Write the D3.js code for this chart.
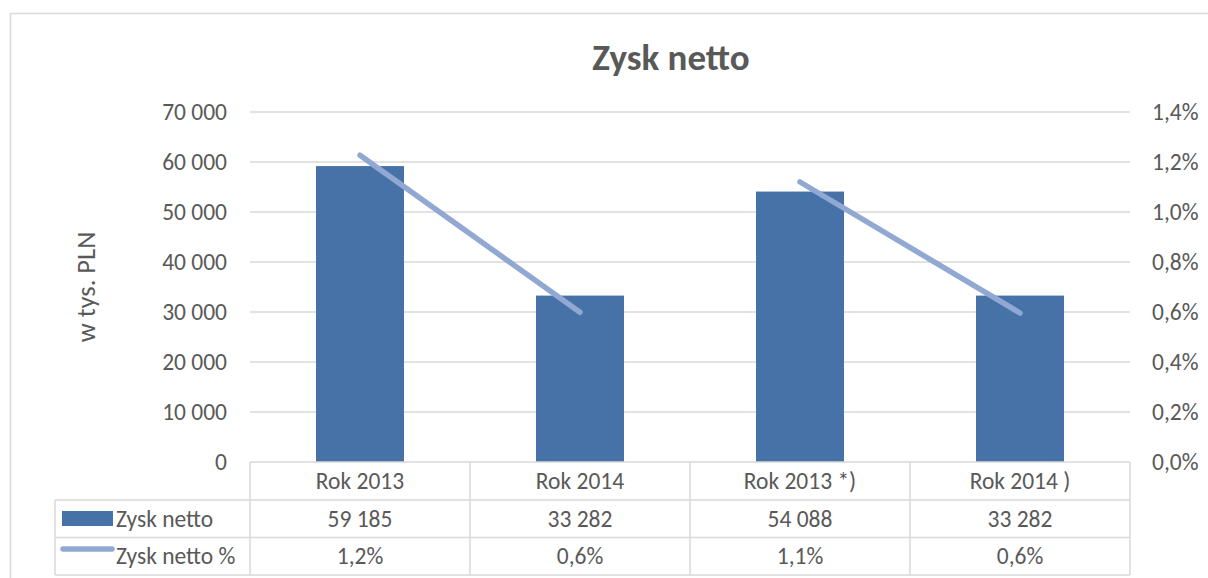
<!DOCTYPE html>
<html>
<head>
<meta charset="utf-8">
<script src="https://cdn.jsdelivr.net/npm/d3@7"></script>
<style>
	body { margin: 0; background: #fff; }
	svg { display: block; font-family: Carlito, Calibri, Lato, sans-serif; }
	text { fill: #595959; }
</style>
</head>
<body>
<div id="chart"></div>
<script>
/* global d3 */

const categories = ['Rok 2013', 'Rok 2014', 'Rok 2013 *)', 'Rok 2014 )'];
const zyskNetto = [59185, 33282, 54088, 33282];
const zyskNettoPct = [0.01227, 0.00599, 0.0112, 0.00596];
const leftTicks = [0, 10000, 20000, 30000, 40000, 50000, 60000, 70000];
const rightTicks = [0, 0.002, 0.004, 0.006, 0.008, 0.010, 0.012, 0.014];
const seriesNames = ['Zysk netto', 'Zysk netto %'];

const width = 1208;
const height = 578;

const barColor = '#4672a8';
const lineColor = '#91a9d2';
const gridColor = '#d9d9d9';
const fontSize = '23.5px';

const pl = d3.formatLocale({
	decimal: ',',
	thousands: '\u00a0',
	grouping: [3],
	currency: ['', ' zł'],
});
const fmtNum = pl.format(',d');
const fmtPct = pl.format('.1%');

const svg = d3.select('#chart').append('svg')
	.attr('width', width)
	.attr('height', height);

// chart frame
svg.append('path')
	.attr('d', `M10.5,${height + 2}V13.5H${width + 2}`)
	.attr('fill', 'none')
	.attr('stroke', gridColor)
	.attr('stroke-width', 1.5);

svg.append('text')
	.attr('x', 671)
	.attr('y', 70)
	.attr('text-anchor', 'middle')
	.style('font-size', '37px')
	.style('font-weight', 'bold')
	.text('Zysk netto');

const x = d3.scaleBand()
	.domain(categories)
	.range([250, 1130]);

const y = d3.scaleLinear()
	.domain([0, 70000])
	.range([462, 112]);

const yPct = d3.scaleLinear()
	.domain([0, 0.014])
	.range([462, 112]);

// gridlines
svg.append('g')
	.selectAll('line')
	.data(leftTicks.slice(1))
	.enter().append('line')
	.attr('x1', 250)
	.attr('x2', 1130)
	.attr('y1', d => y(d))
	.attr('y2', d => y(d))
	.attr('stroke', gridColor)
	.attr('stroke-width', 1.5);

// axes
const leftAxis = svg.append('g')
	.attr('transform', 'translate(250,0)')
	.call(d3.axisLeft(y).tickValues(leftTicks).tickFormat(fmtNum).tickSize(0).tickPadding(23))
	.attr('font-family', null)
	.attr('font-size', null);
leftAxis.select('.domain').remove();
leftAxis.selectAll('text').style('font-size', fontSize).attr('fill', '#595959');

const rightAxis = svg.append('g')
	.attr('transform', 'translate(1130,0)')
	.call(d3.axisRight(yPct).tickValues(rightTicks).tickFormat(fmtPct).tickSize(0).tickPadding(22))
	.attr('font-family', null)
	.attr('font-size', null);
rightAxis.select('.domain').remove();
rightAxis.selectAll('text').style('font-size', fontSize).attr('fill', '#595959');

svg.append('text')
	.attr('transform', 'translate(95,287) rotate(-90)')
	.attr('text-anchor', 'middle')
	.style('font-size', '26.5px')
	.text('w tys. PLN');

// bars
const bw = x.bandwidth();
svg.append('g')
	.selectAll('rect')
	.data(zyskNetto)
	.enter().append('rect')
	.attr('x', (d, i) => x(categories[i]) + bw * 0.3)
	.attr('width', bw * 0.4)
	.attr('y', d => y(d))
	.attr('height', d => y(0) - y(d))
	.attr('fill', barColor);

// line series, one segment per pair of years
[[0, 1], [2, 3]].forEach(pair => {
	const line = d3.line()
		.x((v, j) => x(categories[pair[j]]) + bw / 2)
		.y(v => yPct(v));
	svg.append('path')
		.datum(pair.map(i => zyskNettoPct[i]))
		.attr('d', line)
		.attr('fill', 'none')
		.attr('stroke', lineColor)
		.attr('stroke-width', 5.5)
		.attr('stroke-linecap', 'round');
});

// data table
const rowTop = [462, 500, 537.5, 575];
const table = svg.append('g')
	.attr('stroke', gridColor)
	.attr('stroke-width', 1.5);

table.append('line')
	.attr('x1', 250).attr('x2', 1130)
	.attr('y1', rowTop[0]).attr('y2', rowTop[0]);
rowTop.slice(1).forEach(r => {
	table.append('line')
		.attr('x1', 55).attr('x2', 1130)
		.attr('y1', r).attr('y2', r);
});
table.append('line')
	.attr('x1', 55).attr('x2', 55)
	.attr('y1', rowTop[1]).attr('y2', rowTop[3]);
categories.concat([null]).forEach((c, i) => {
	const xx = 250 + i * bw;
	table.append('line')
		.attr('x1', xx).attr('x2', xx)
		.attr('y1', rowTop[0]).attr('y2', rowTop[3]);
});

const cellText = (row, values) => {
	svg.append('g')
		.selectAll('text')
		.data(values)
		.enter().append('text')
		.attr('x', (d, i) => x(categories[i]) + bw / 2)
		.attr('y', (rowTop[row] + rowTop[row + 1]) / 2)
		.attr('dy', '0.35em')
		.attr('text-anchor', 'middle')
		.style('font-size', fontSize)
		.text(d => d);
};
cellText(0, categories);
cellText(1, zyskNetto.map(fmtNum));
cellText(2, zyskNettoPct.map(fmtPct));

// legend keys in table
svg.append('rect')
	.attr('x', 62)
	.attr('y', 511)
	.attr('width', 51)
	.attr('height', 15)
	.attr('fill', barColor);
svg.append('line')
	.attr('x1', 63).attr('x2', 112)
	.attr('y1', 549).attr('y2', 549)
	.attr('stroke', lineColor)
	.attr('stroke-width', 5.5)
	.attr('stroke-linecap', 'round');

svg.append('g')
	.selectAll('text')
	.data(seriesNames)
	.enter().append('text')
	.attr('x', 116)
	.attr('y', (d, i) => (rowTop[i + 1] + rowTop[i + 2]) / 2)
	.attr('dy', '0.35em')
	.style('font-size', fontSize)
	.text(d => d);
</script>
</body>
</html>
